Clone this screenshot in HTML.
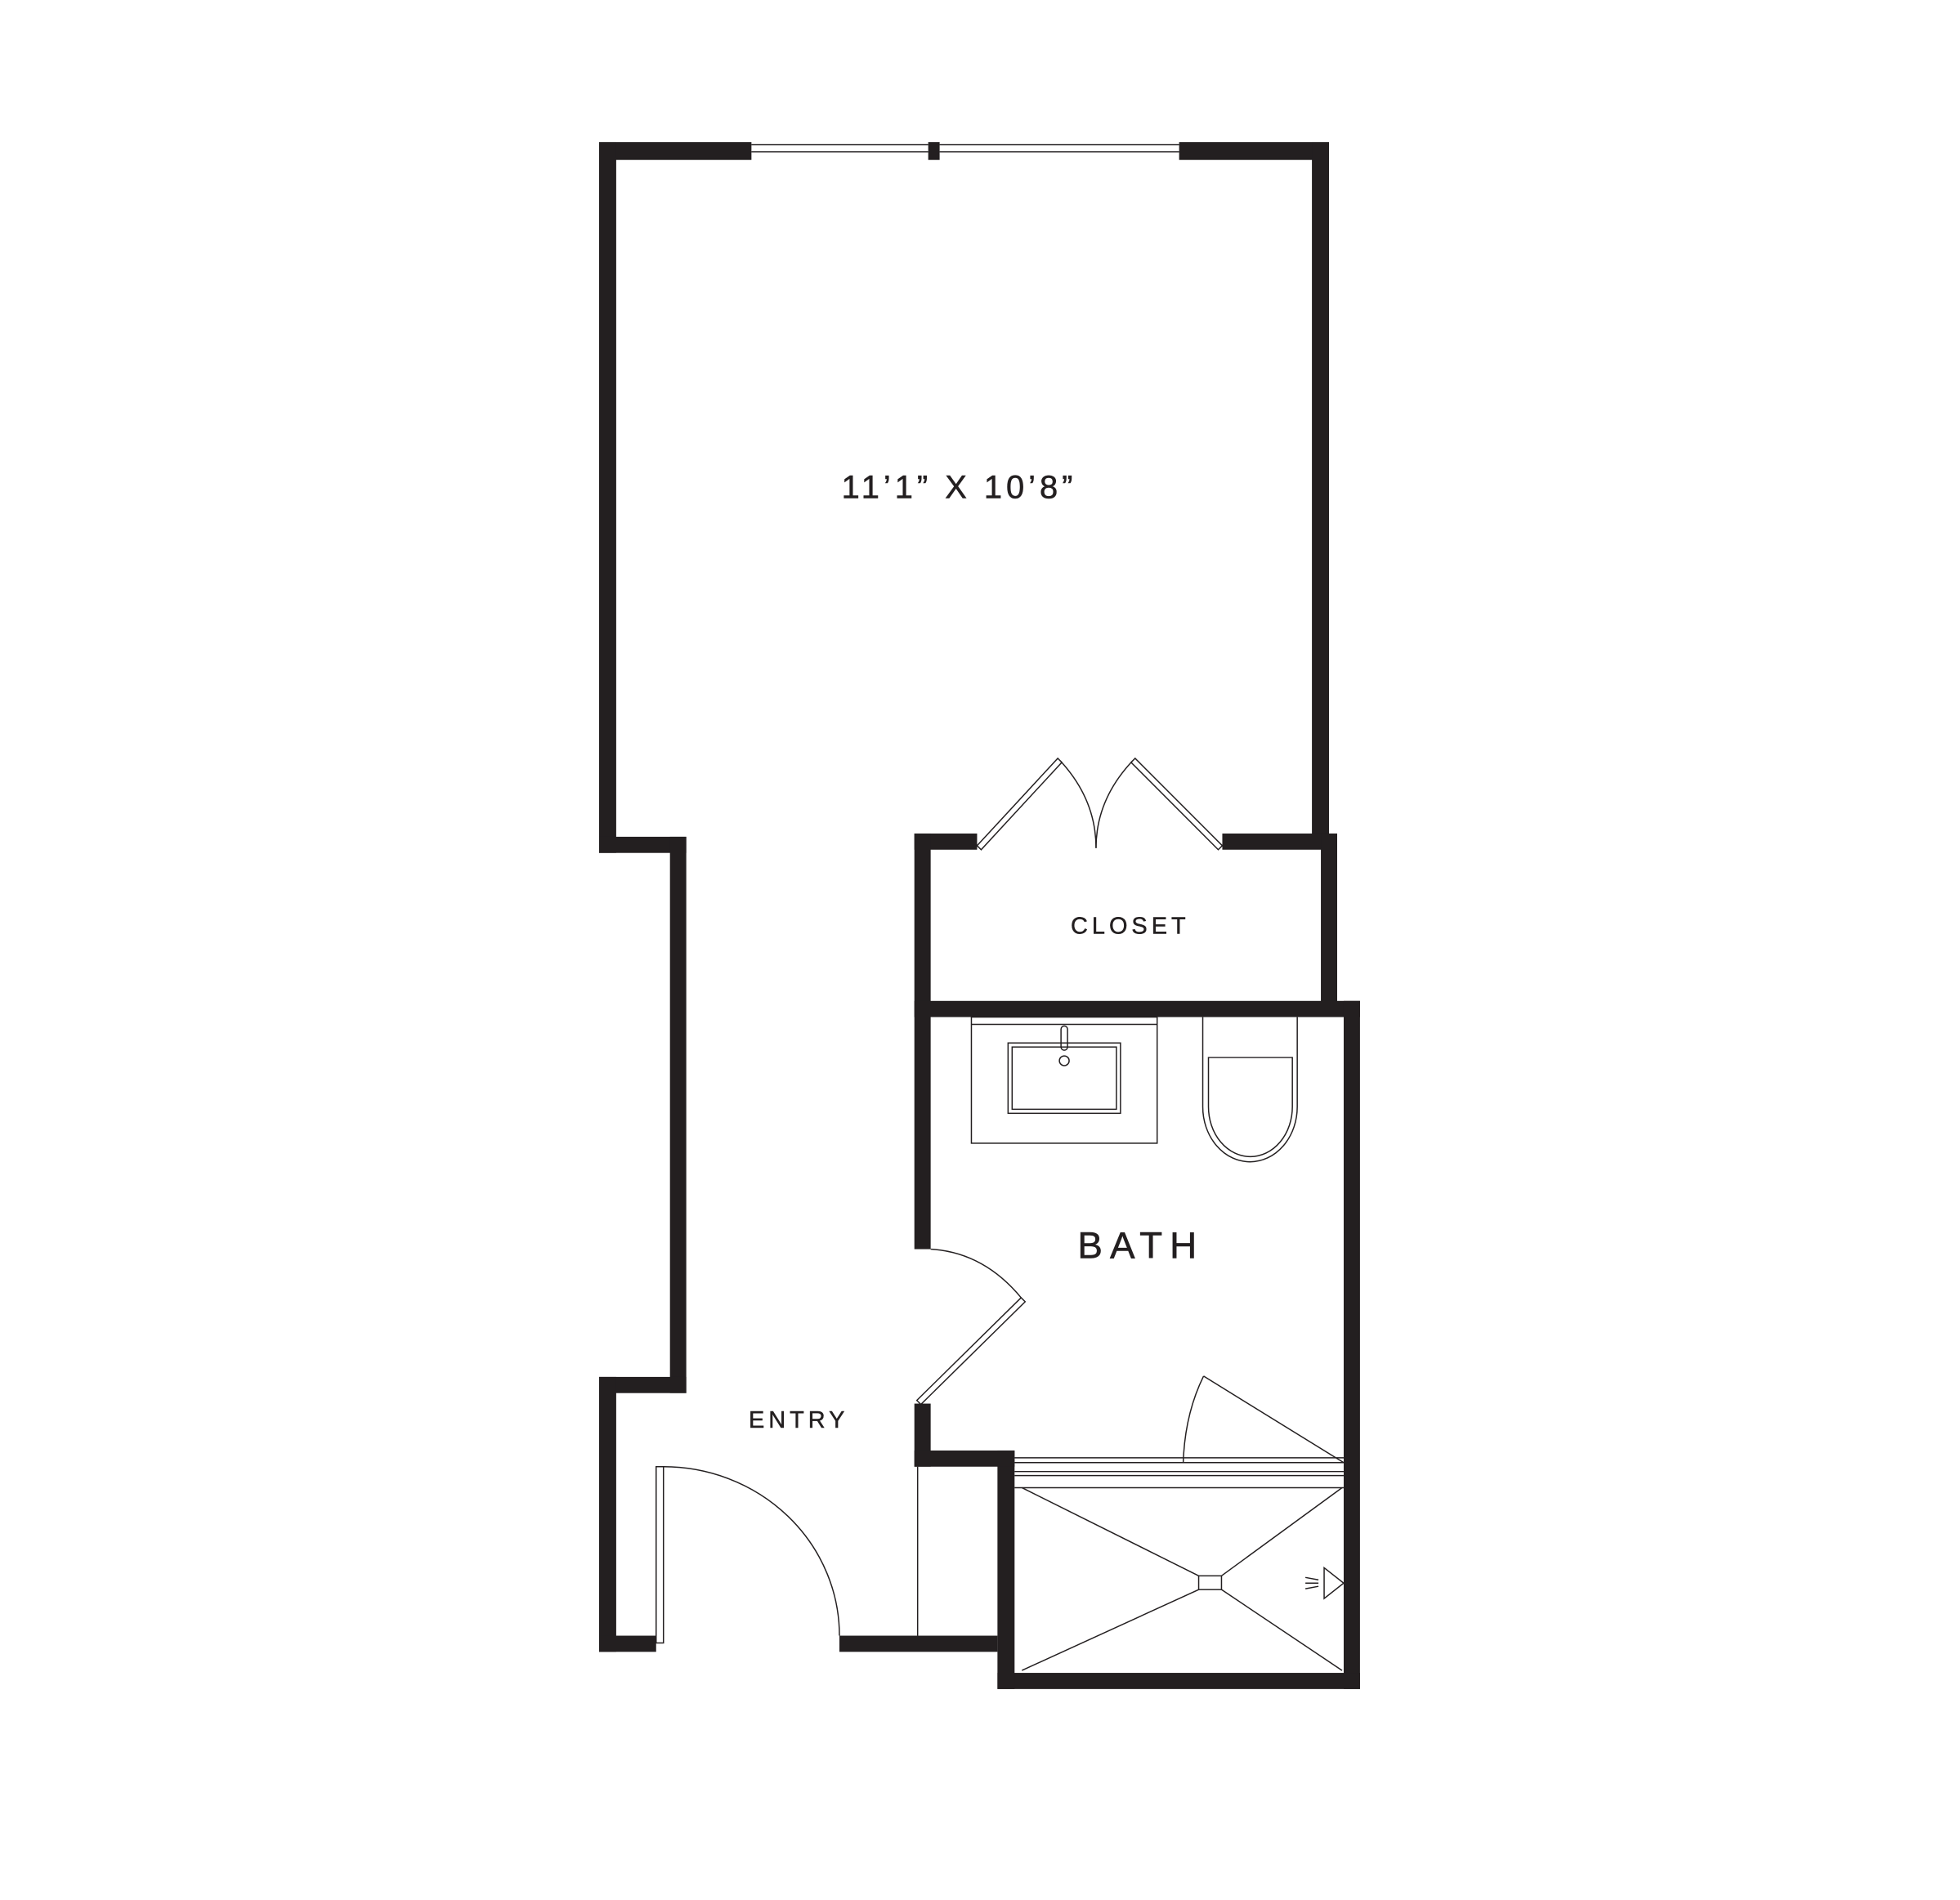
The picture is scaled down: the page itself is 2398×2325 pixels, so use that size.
<!DOCTYPE html>
<html><head><style>
html,body{margin:0;padding:0;background:#fff;}
svg{display:block;}
text{font-family:"Liberation Sans",sans-serif;fill:#231f20;}
</style></head><body>
<svg width="2398" height="2325" viewBox="0 0 2398 2325" xmlns="http://www.w3.org/2000/svg">
<g transform="matrix(0.9967,0,0,0.9895,2.4,-1.2)">
<g fill="#231f20">
<rect x="733" y="177" width="187" height="22"/>
<rect x="1445" y="177" width="184" height="22"/>
<rect x="1137" y="177" width="14" height="22"/>
<rect x="733" y="177" width="21" height="879"/>
<rect x="733" y="1036" width="107" height="20"/>
<rect x="820" y="1036" width="20" height="688"/>
<rect x="733" y="1704" width="107" height="20"/>
<rect x="733" y="1704" width="21" height="340"/>
<rect x="733" y="2024" width="70" height="20"/>
<rect x="1028" y="2024" width="194" height="20"/>
<rect x="1608" y="177" width="21" height="862"/>
<rect x="1120" y="1032" width="77" height="20"/>
<rect x="1498" y="1032" width="141" height="20"/>
<rect x="1120" y="1032" width="20" height="514"/>
<rect x="1619" y="1032" width="20" height="217"/>
<rect x="1120" y="1239" width="547" height="20"/>
<rect x="1647" y="1239" width="20" height="851"/>
<rect x="1222" y="2070" width="445" height="20"/>
<rect x="1222" y="1795" width="21" height="295"/>
<rect x="1120" y="1737" width="20" height="78"/>
<rect x="1120" y="1795" width="123" height="20"/>
</g>
<g fill="none" stroke="#231f20" stroke-width="1.5">
<line x1="920" y1="180" x2="1137" y2="180"/><line x1="920" y1="189" x2="1137" y2="189"/>
<line x1="1151" y1="180" x2="1445" y2="180"/><line x1="1151" y1="189" x2="1445" y2="189"/>
<polygon points="1197,1047 1296,939 1301,944 1202,1052"/>
<polygon points="1498,1047 1391,939 1386,944 1493,1052"/>
<path d="M1299,942 Q1343,990 1343,1050"/>
<path d="M1388,942 Q1343,990 1343,1050"/>
<rect x="803" y="1815" width="9" height="218"/>
<path d="M812,1815 A216,209 0 0 1 1028,2024"/>
<line x1="1124" y1="1815" x2="1124" y2="2024"/>
<path d="M1140,1546 Q1205,1550 1251,1606"/>
<polygon points="1251,1606 1256,1611 1128,1738 1123,1733"/>
<rect x="1190" y="1259" width="228" height="156"/>
<line x1="1190" y1="1268" x2="1418" y2="1268"/>
<rect x="1235" y="1291" width="138" height="87"/>
<rect x="1240" y="1296" width="128" height="77"/>
<rect x="1300" y="1270" width="8" height="30" rx="4"/>
<circle cx="1304" cy="1313" r="6"/>
<path d="M1474,1259 L1474,1370 A58,68 0 0 0 1590,1370 L1590,1259"/>
<path d="M1481,1309 L1584,1309 L1584,1370 A51,61 0 0 1 1481,1370 Z"/>
<line x1="1243" y1="1804" x2="1647" y2="1804"/>
<line x1="1243" y1="1810" x2="1647" y2="1810"/>
<line x1="1243" y1="1821" x2="1647" y2="1821"/>
<line x1="1243" y1="1826" x2="1647" y2="1826"/>
<line x1="1243" y1="1841" x2="1647" y2="1841"/>
<rect x="1469" y="1950" width="28" height="17"/>
<line x1="1252" y1="1841" x2="1469" y2="1950"/>
<line x1="1645" y1="1841" x2="1497" y2="1950"/>
<line x1="1252" y1="2067" x2="1469" y2="1967"/>
<line x1="1645" y1="2067" x2="1497" y2="1967"/>
<line x1="1475" y1="1703" x2="1647" y2="1810"/>
<path d="M1475,1703 Q1452,1750 1450,1810"/>
<polygon points="1623,1940 1647,1959 1623,1978"/>
<line x1="1600" y1="1952" x2="1616" y2="1955"/>
<line x1="1600" y1="1959" x2="1616" y2="1959"/>
<line x1="1600" y1="1966" x2="1616" y2="1963"/>
</g>
<text x="1175" y="617" font-size="40" text-anchor="middle" letter-spacing="5" stroke="#231f20" stroke-width="0.6">11’1”  X  10’8”</text>
<text x="1385" y="1156" font-size="29" text-anchor="middle" letter-spacing="5" stroke="#231f20" stroke-width="0.5">CLOSET</text>
<text x="1398" y="1557" font-size="46" text-anchor="middle" letter-spacing="9" stroke="#231f20" stroke-width="0.6">BATH</text>
<text x="978" y="1767" font-size="29" text-anchor="middle" letter-spacing="5" stroke="#231f20" stroke-width="0.5">ENTRY</text>
</g>
</svg>
</body></html>
